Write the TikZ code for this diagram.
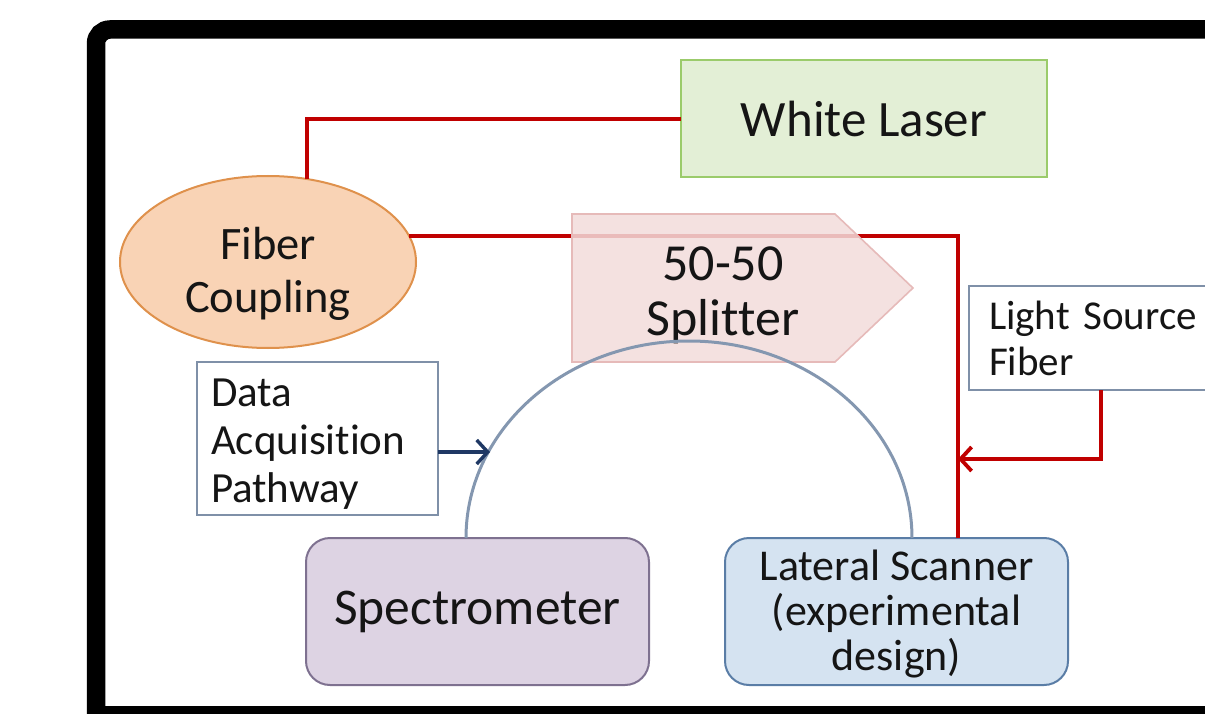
\documentclass[tikz,border=0pt]{standalone}
\usepackage{fontspec}
\setmainfont{Carlito}[Ligatures=NoCommon]
\usetikzlibrary{arrows.meta,shapes.geometric}

\definecolor{laserfill}{HTML}{E3EFD6}
\definecolor{laserline}{HTML}{9BCB6B}
\definecolor{couplefill}{HTML}{F9D3B5}
\definecolor{coupleline}{HTML}{DF914C}
\definecolor{splitfill}{HTML}{F2DCDB}
\definecolor{splitline}{HTML}{E6BAB9}
\definecolor{fiberred}{HTML}{C00000}
\definecolor{specfill}{HTML}{DDD3E3}
\definecolor{specline}{HTML}{7E7190}
\definecolor{scanfill}{HTML}{D5E3F1}
\definecolor{scanline}{HTML}{5A7DA6}
\definecolor{labelline}{HTML}{7F90A8}
\definecolor{arcline}{HTML}{8497B0}
\definecolor{datablue}{HTML}{1F3864}
\definecolor{ink}{HTML}{151515}

\begin{document}
\begin{tikzpicture}[x=1pt,y=-1pt,
  every node/.style={text=ink, inner sep=0pt, outer sep=0pt},
  unitbox/.style={draw, line width=2pt, align=center},
  roundbox/.style={unitbox, rounded corners=24pt, minimum width=343pt, minimum height=147pt},
  labelbox/.style={draw=labelline, fill=white, line width=1.6pt, align=left},
  fiber/.style={draw=fiberred, line width=3.8pt},
  barb/.style={-{Straight Barb[length=11pt,width=24pt]}},
]
\useasboundingbox (0,0) rectangle (1205,714);
\clip (0,0) rectangle (1205,714);

% outer frame: rounded top-left corner, square bottom band
\draw[line width=18.5pt, rounded corners=14pt] (96,760) -- (96,29.5) -- (1260,29.5);
\fill (87,706) rectangle (1205,714);

% components
\node[unitbox, draw=laserline, fill=laserfill, minimum width=366pt, minimum height=117pt,
      font=\fontsize{51}{58}\selectfont] (laser) at (864,119) {White Laser};
\node[ellipse, draw=coupleline, fill=couplefill, line width=2pt, minimum width=296pt,
      minimum height=172pt] (coupling) at (268,262) {};
\node[align=center, font=\fontsize{46.5}{53}\selectfont] (coupling-text) at (268,274) {Fiber\\Coupling};
\node[roundbox, draw=specline, fill=specfill, font=\fontsize{51.5}{58}\selectfont]
      (spec) at (477.5,611.5) {Spectrometer};
\node[roundbox, draw=scanline, fill=scanfill, font=\fontsize{44}{45}\selectfont]
      (scanner) at (896.5,611.5) {\rule{0pt}{36pt}Lateral Scanner\\(experimental\\design)};

% labels
\node[labelbox, anchor=north west, minimum width=300pt, minimum height=104pt,
      text width=260pt, inner xsep=10pt, font=\fontsize{41}{46}\selectfont]
      (source) at (969,286) {Light Source\\Fiber};
\node[labelbox, anchor=north west, minimum width=241pt, minimum height=153pt,
      text width=213pt, inner xsep=14pt, font=\fontsize{43}{48}\selectfont]
      (data) at (197,362) {\rule{0pt}{38pt}Data\\Acquisition\\Pathway};

% fibre paths
\coordinate (cpl-top) at (307,179);
\coordinate (cpl-out) at (409,236);
\coordinate (join) at (958,459);
\draw[fiber] (cpl-top) |- (laser.west);
\draw[fiber] (cpl-out) -| ([xshift=61.5pt]scanner.north);
\draw[fiber, barb] ([xshift=132pt]source.south west) |- (join);

% splitter
\path[draw=splitline, fill=splitfill, fill opacity=0.85, line width=1.6pt]
  (572,214) -- (835,214) -- (913,288) -- (835,362) -- (572,362) -- cycle;
\node[align=center, font=\fontsize{52}{55}\selectfont] (splitter) at (723,295) {50-50\\Splitter};

% data acquisition arc
\coordinate (arcL) at (466,538);
\coordinate (arcin) at (490,452);
\draw[draw=arcline, line width=3pt] (arcL) arc[start angle=180, end angle=0, x radius=223pt, y radius=197pt];
\draw[draw=datablue, line width=3.4pt, barb] (data.east |- arcin) -- (arcin);
\end{tikzpicture}
\end{document}
